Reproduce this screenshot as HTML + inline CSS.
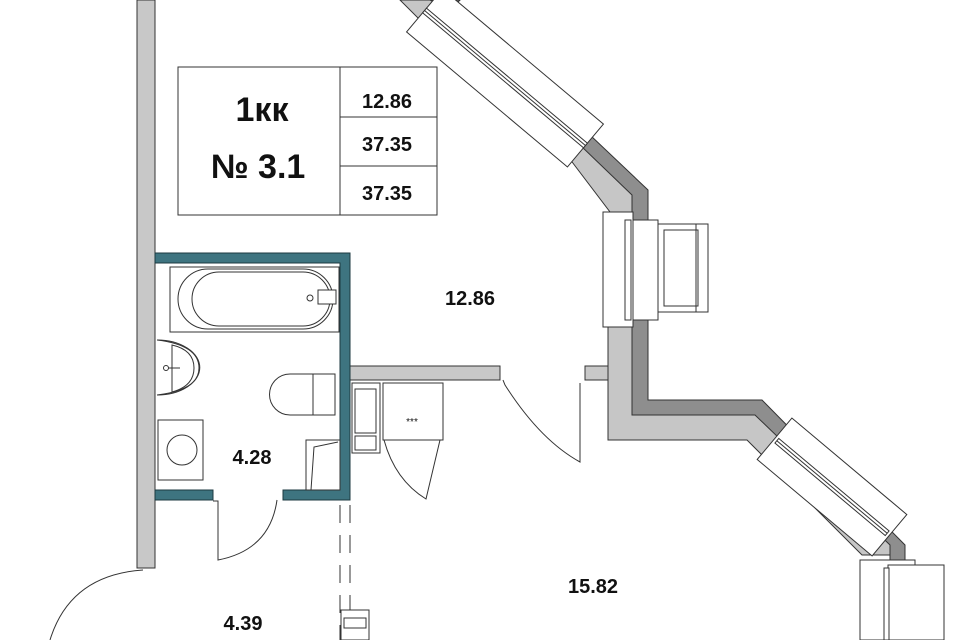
<!DOCTYPE html>
<html><head><meta charset="utf-8"><style>
html,body{margin:0;padding:0;background:#fff;}
svg{display:block;}
text{font-family:"Liberation Sans",sans-serif;fill:#111;}
</style></head><body>
<svg width="960" height="640" viewBox="0 0 960 640" xmlns="http://www.w3.org/2000/svg">
<rect width="960" height="640" fill="#fff"/>
<!-- left wall -->
<rect x="137" y="0" width="18" height="568" fill="#c8c8c8" stroke="#333" stroke-width="1"/>

<!-- right outer walls: light -->
<polygon points="563,150 610,212 608,212 608,440 747,440 862,555 890,555 890,530 760,415 632,415 632,190 590,135" fill="#c6c6c6" stroke="#333" stroke-width="1"/>
<!-- dark strip -->
<polygon points="590,135 648,190 648,400 762,400 905,545 905,560 890,560 890,545 755,415 632,415 632,195 580,145" fill="#8e8e8e" stroke="#333" stroke-width="1"/>
<!-- top diagonal wall pieces -->
<polygon points="400,0 460,0 430,25 420,20" fill="#c6c6c6" stroke="#333"/>
<polygon points="430,0 460,0 450,10" fill="#8e8e8e" stroke="#333"/>

<!-- top diagonal window -->
<g transform="translate(505,78) rotate(40)">
<rect x="-105" y="-28" width="210" height="56" fill="#fff" stroke="#333"/>
<rect x="-105" y="-3" width="210" height="6" fill="#fff" stroke="#333"/>
<line x1="-105" y1="0" x2="105" y2="0" stroke="#333"/>
</g>
<!-- lower diagonal window -->
<g transform="translate(832,487) rotate(40)">
<rect x="-75" y="-27" width="150" height="54" fill="#fff" stroke="#333"/>
<rect x="-72" y="-3" width="144" height="6" fill="#fff" stroke="#333"/>
<line x1="-72" y1="0" x2="72" y2="0" stroke="#333"/>
</g>
<!-- right window -->
<rect x="603" y="212" width="30" height="115" fill="#fff" stroke="#333"/>
<rect x="625" y="220" width="6" height="100" fill="#fff" stroke="#333"/>
<rect x="633" y="220" width="25" height="100" fill="#fff" stroke="#333"/>
<rect x="658" y="224" width="50" height="88" fill="#fff" stroke="#333"/>
<rect x="664" y="230" width="34" height="76" fill="#fff" stroke="#333"/>
<line x1="696" y1="224" x2="696" y2="312" stroke="#333"/>
<!-- bottom right window -->
<rect x="860" y="560" width="55" height="80" fill="#fff" stroke="#333"/>
<rect x="888" y="565" width="56" height="75" fill="#fff" stroke="#333"/>
<rect x="884" y="568" width="5" height="72" fill="#fff" stroke="#333"/>

<!-- partition wall -->
<rect x="350" y="366" width="150" height="14" fill="#c8c8c8" stroke="#333"/>
<rect x="585" y="366" width="23" height="14" fill="#c8c8c8" stroke="#333"/>
<!-- kitchen door -->
<path d="M503,380 L505,385 Q540,440 580,462 L580,383" fill="none" stroke="#333"/>
<!-- kitchen units -->
<rect x="352" y="383" width="28" height="70" fill="#fff" stroke="#333"/>
<rect x="355" y="389" width="21" height="44" fill="#fff" stroke="#333"/>
<rect x="355" y="436" width="21" height="14" fill="#fff" stroke="#333"/>
<rect x="383" y="383" width="60" height="57" fill="#fff" stroke="#333"/>
<text x="412" y="425" font-size="10" text-anchor="middle">***</text>
<path d="M384,440 Q395,480 426,499 L440,440" fill="none" stroke="#333"/>

<!-- bathroom teal walls -->
<path d="M155,253 H350 V500 H283 V490 H340 V263 H155 Z" fill="#3e7480" stroke="#1c3a40"/>
<path d="M155,490 H213 V500 H155 Z" fill="#3e7480" stroke="#1c3a40"/>
<!-- bathtub -->
<rect x="170" y="267" width="169" height="65" fill="#fff" stroke="#333"/>
<rect x="178" y="269" width="155" height="60" rx="30" fill="#fff" stroke="#333"/>
<rect x="192" y="272" width="138" height="54" rx="27" fill="#fff" stroke="#333"/>
<circle cx="310" cy="298" r="3" fill="#fff" stroke="#333"/>
<rect x="318" y="290" width="18" height="14" fill="#fff" stroke="#333"/>
<!-- sink -->
<path d="M157,340 A42,27 0 0 1 157,395" transform="translate(0,0)" fill="none" stroke="#333"/>
<path d="M157,340 Q199,345 199,368 Q199,390 157,395" fill="#fff" stroke="#333"/>
<path d="M172,345 Q194,350 194,368 Q194,386 172,392 Z" fill="#fff" stroke="#333"/>
<circle cx="166" cy="368" r="2.5" fill="#fff" stroke="#333"/>
<line x1="168" y1="368" x2="180" y2="368" stroke="#333"/>
<!-- toilet -->
<path d="M290,374 H335 V415 H290 A20,20 0 0 1 290,374 Z" fill="#fff" stroke="#333"/>
<line x1="313" y1="374" x2="313" y2="415" stroke="#333"/>
<!-- washer -->
<rect x="158" y="420" width="45" height="60" fill="#fff" stroke="#333"/>
<circle cx="182" cy="450" r="15" fill="#fff" stroke="#333"/>
<!-- small unit -->
<rect x="306" y="440" width="34" height="50" fill="#fff" stroke="#333"/>
<path d="M311,490 L314,447 L338,442" fill="none" stroke="#333"/>
<!-- bathroom door -->
<path d="M213,501 H218 V560 Q270,550 277,500" fill="none" stroke="#333"/>
<!-- entry door -->
<path d="M143,570 Q70,575 50,640" fill="none" stroke="#333"/>
<!-- dashed opening -->
<line x1="340" y1="505" x2="340" y2="640" stroke="#333" stroke-dasharray="18,12"/>
<line x1="350" y1="505" x2="350" y2="640" stroke="#333" stroke-dasharray="18,12"/>
<rect x="341" y="610" width="28" height="30" fill="#fff" stroke="#333"/>
<rect x="344" y="618" width="22" height="10" fill="#fff" stroke="#333"/>

<!-- info box -->
<rect x="178" y="67" width="259" height="148" fill="#fff" stroke="#333"/>
<line x1="340" y1="67" x2="340" y2="215" stroke="#333"/>
<line x1="340" y1="117" x2="437" y2="117" stroke="#333"/>
<line x1="340" y1="166" x2="437" y2="166" stroke="#333"/>
<text x="262" y="121" font-size="34" font-weight="bold" text-anchor="middle">1кк</text>
<text x="258" y="178" font-size="34" font-weight="bold" text-anchor="middle">№ 3.1</text>
<text x="387" y="108" font-size="20" font-weight="bold" text-anchor="middle">12.86</text>
<text x="387" y="151" font-size="20" font-weight="bold" text-anchor="middle">37.35</text>
<text x="387" y="200" font-size="20" font-weight="bold" text-anchor="middle">37.35</text>
<!-- room labels -->
<text x="470" y="305" font-size="20" font-weight="bold" text-anchor="middle">12.86</text>
<text x="252" y="464" font-size="20" font-weight="bold" text-anchor="middle">4.28</text>
<text x="243" y="630" font-size="20" font-weight="bold" text-anchor="middle">4.39</text>
<text x="593" y="593" font-size="20" font-weight="bold" text-anchor="middle">15.82</text>
</svg>
</body></html>
